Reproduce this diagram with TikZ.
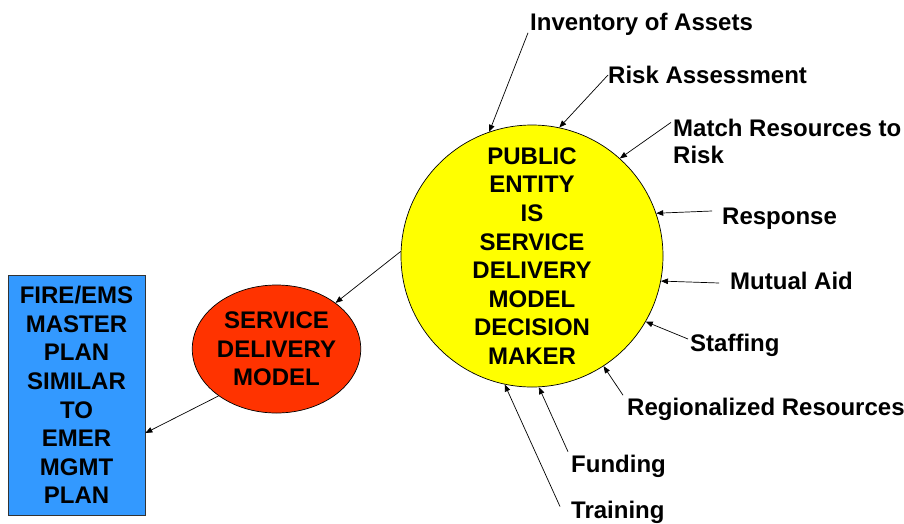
\documentclass[tikz,border=0pt]{standalone}
\usepackage{fontspec}
\setmainfont{Liberation Sans}
\usetikzlibrary{arrows.meta,shapes.geometric,calc}
\definecolor{cyel}{HTML}{FFFF00}
\definecolor{cred}{HTML}{FF3300}
\definecolor{cblue}{HTML}{3399FF}
\tikzset{
  big/.style={font=\fontsize{24}{28.6}\selectfont\bfseries, align=center, text=black},
  lbl/.style={font=\fontsize{24}{27}\selectfont\bfseries, inner sep=0pt, anchor=west, text height=17.2pt, text depth=0pt},
  arr/.style={draw=black, line width=0.7pt, -{Triangle[length=7pt,width=5.5pt]}},
}
\begin{document}
\begin{tikzpicture}[x=1pt,y=-1pt]
\useasboundingbox (0,0) rectangle (904,523);
\node[big, circle, draw=black, line width=0.7pt, fill=cyel, minimum size=262pt, inner sep=0pt] (circ) at (532,256)
  {PUBLIC\\ENTITY\\IS\\SERVICE\\DELIVERY\\MODEL\\DECISION\\MAKER};
\node[big, ellipse, draw=black, line width=0.7pt, fill=cred, minimum width=167pt, minimum height=128pt, inner sep=0pt] (sdm) at (276.5,349)
  {SERVICE\\DELIVERY\\MODEL};
\node[big, rectangle, draw=black!80, line width=0.7pt, fill=cblue, minimum width=137pt, minimum height=240pt, inner sep=0pt] (plan) at (76.5,395)
  {FIRE/EMS\\MASTER\\PLAN\\SIMILAR\\TO\\EMER\\MGMT\\PLAN};

\node[lbl] (inv) at (530,22) {Inventory of Assets};
\node[lbl] (risk) at (608,75) {Risk Assessment};
\node[font=\fontsize{24}{27}\selectfont\bfseries, inner sep=0pt, align=left, anchor=north west] (match) at (673,119.4) {Match Resources to\\Risk};
\node[lbl] (resp) at (722,216) {Response};
\node[lbl] (mut) at (730,281) {Mutual Aid};
\node[lbl] (staff) at (690,343) {Staffing};
\node[lbl] (reg) at (627,407) {Regionalized Resources};
\node[lbl] (fund) at (571,463.5) {Funding};
\node[lbl] (train) at (571,509.5) {Training};

\draw[arr] ([shift={(-2,2)}]inv.south west) -- (circ.109);
\draw[arr] (risk.west) -- (circ.78);
\draw[arr] ([shift={(-2,3)}]match.north west) -- (circ.48);
\draw[arr] ([shift={(-10,-5)}]resp.west) -- (circ.19.7);
\draw[arr] ([shift={(-11,2)}]mut.west) -- (circ.-11.5);
\draw[arr] ([shift={(-2,-4)}]staff.west) -- (circ.-30.4);
\draw[arr] ([shift={(-4,-3)}]reg.north west) -- (circ.-57.8);
\draw[arr] ([shift={(-3,-3)}]fund.north west) -- (circ.-87.8);
\draw[arr] ([shift={(-11,-3)}]train.west) -- (circ.-102);

\draw[arr] (circ.178) -- (sdm.38);
\draw[arr] (sdm.219) -- ([yshift=-38pt]plan.east);
\end{tikzpicture}
\end{document}
